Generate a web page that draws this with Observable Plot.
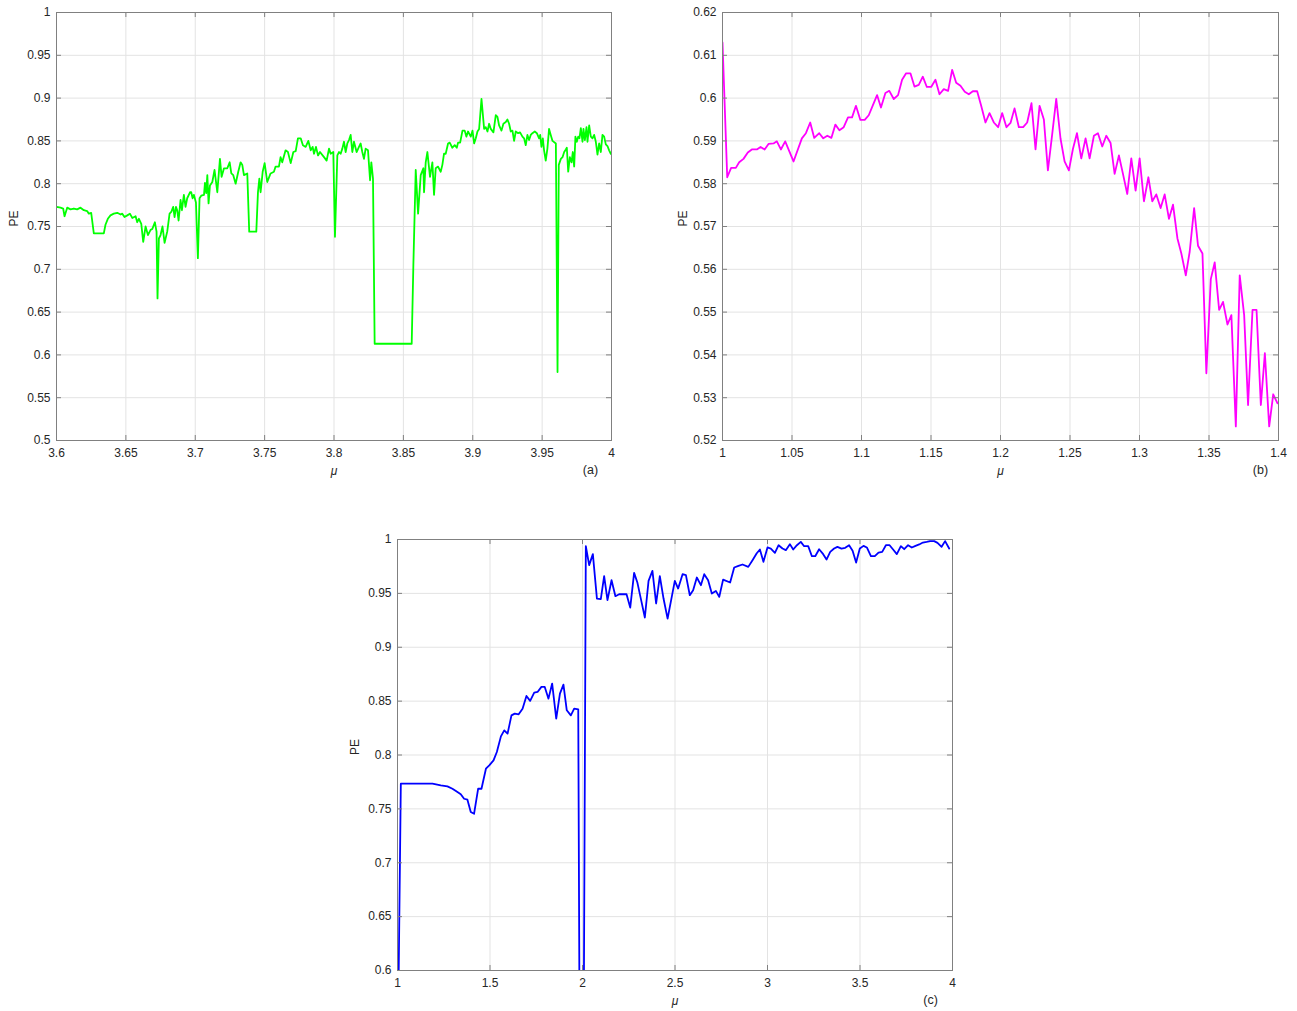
<!DOCTYPE html>
<html><head><meta charset="utf-8">
<script src="https://cdn.jsdelivr.net/npm/d3@7"></script>
<script src="https://cdn.jsdelivr.net/npm/@observablehq/plot@0.6"></script>
<style>
body{margin:0;background:#fff}
#root{position:relative;width:1297px;height:1011px;overflow:hidden;background:#fff}
.panel{position:absolute}
</style>
</head><body><div id="root"></div>
<script>
// ---------- Panel (a) ----------
const muA = [3.6000,3.6029,3.6048,3.6058,3.6077,3.6101,3.6125,3.6149,3.6173,3.6197,
3.6221,3.6233,3.6250,3.6269,3.6341,3.6353,3.6370,3.6389,3.6413,3.6438,
3.6462,3.6474,3.6490,3.6510,3.6529,3.6546,3.6570,3.6582,3.6594,3.6611,
3.6625,3.6642,3.6659,3.6678,3.6690,3.6709,3.6721,3.6728,3.6738,3.6750,
3.6764,3.6779,3.6798,3.6815,3.6827,3.6841,3.6851,3.6861,3.6870,3.6880,
3.6894,3.6904,3.6918,3.6930,3.6942,3.6962,3.6971,3.6981,3.6990,3.7005,
3.7019,3.7031,3.7043,3.7063,3.7070,3.7079,3.7087,3.7096,3.7106,3.7123,
3.7139,3.7159,3.7178,3.7190,3.7207,3.7231,3.7248,3.7260,3.7274,3.7291,
3.7310,3.7327,3.7339,3.7351,3.7375,3.7389,3.7440,3.7452,3.7462,3.7471,
3.7486,3.7500,3.7519,3.7543,3.7567,3.7579,3.7603,3.7615,3.7627,3.7651,
3.7668,3.7688,3.7707,3.7724,3.7740,3.7760,3.7776,3.7796,3.7815,3.7832,
3.7846,3.7856,3.7870,3.7885,3.7899,3.7928,3.7947,3.7964,3.7976,3.7995,
3.8007,3.8024,3.8036,3.8048,3.8060,3.8072,3.8084,3.8096,3.8108,3.8120,
3.8132,3.8144,3.8163,3.8180,3.8192,3.8204,3.8216,3.8228,3.8245,3.8260,
3.8269,3.8281,3.8293,3.8560,3.8572,3.8589,3.8606,3.8625,3.8644,3.8649,
3.8661,3.8673,3.8692,3.8709,3.8721,3.8733,3.8750,3.8769,3.8781,3.8793,
3.8805,3.8822,3.8834,3.8853,3.8870,3.8885,3.8894,3.8909,3.8926,3.8942,
3.8954,3.8966,3.8986,3.8998,3.9010,3.9022,3.9034,3.9046,3.9063,3.9082,
3.9094,3.9106,3.9118,3.9130,3.9149,3.9166,3.9178,3.9190,3.9207,3.9221,
3.9238,3.9250,3.9262,3.9274,3.9286,3.9298,3.9310,3.9327,3.9341,3.9358,
3.9370,3.9382,3.9394,3.9406,3.9418,3.9430,3.9447,3.9462,3.9478,3.9486,
3.9495,3.9505,3.9514,3.9526,3.9538,3.9550,3.9562,3.9575,3.9599,3.9611,
3.9620,3.9635,3.9647,3.9659,3.9671,3.9678,3.9688,3.9700,3.9712,3.9721,
3.9731,3.9740,3.9750,3.9760,3.9769,3.9779,3.9791,3.9798,3.9808,3.9820,
3.9827,3.9839,3.9851,3.9863,3.9875,3.9887,3.9899,3.9911,3.9923,3.9935,
3.9947,3.9959,3.9971,3.9983,3.9995];
const peA = [0.773,0.772,0.771,0.762,0.772,0.770,0.771,0.770,0.772,0.769,
0.768,0.765,0.766,0.742,0.742,0.752,0.759,0.763,0.765,0.766,
0.764,0.765,0.761,0.763,0.765,0.760,0.762,0.755,0.759,0.753,
0.732,0.750,0.740,0.746,0.747,0.755,0.744,0.666,0.736,0.740,
0.750,0.731,0.744,0.765,0.767,0.773,0.761,0.773,0.769,0.757,
0.781,0.769,0.787,0.773,0.783,0.790,0.790,0.783,0.787,0.778,
0.713,0.783,0.786,0.787,0.801,0.789,0.810,0.777,0.798,0.802,
0.816,0.790,0.829,0.808,0.818,0.818,0.825,0.812,0.810,0.800,
0.814,0.825,0.822,0.810,0.812,0.744,0.744,0.790,0.806,0.790,
0.814,0.824,0.802,0.812,0.814,0.820,0.820,0.831,0.825,0.839,
0.837,0.824,0.837,0.838,0.853,0.853,0.845,0.843,0.850,0.839,
0.843,0.835,0.843,0.833,0.837,0.831,0.827,0.841,0.835,0.837,
0.738,0.833,0.837,0.835,0.841,0.849,0.837,0.847,0.851,0.857,
0.837,0.849,0.837,0.843,0.847,0.837,0.829,0.841,0.839,0.804,
0.825,0.806,0.613,0.613,0.705,0.816,0.765,0.810,0.818,0.790,
0.825,0.837,0.808,0.825,0.787,0.818,0.820,0.814,0.822,0.835,
0.835,0.847,0.848,0.842,0.845,0.842,0.848,0.848,0.862,0.862,
0.855,0.861,0.855,0.862,0.847,0.853,0.861,0.864,0.899,0.864,
0.866,0.861,0.870,0.864,0.860,0.880,0.878,0.868,0.862,0.870,
0.872,0.875,0.870,0.861,0.862,0.850,0.861,0.859,0.860,0.855,
0.853,0.845,0.857,0.851,0.857,0.859,0.861,0.859,0.853,0.857,
0.843,0.853,0.839,0.827,0.841,0.864,0.857,0.850,0.847,0.580,
0.822,0.829,0.831,0.837,0.840,0.842,0.814,0.831,0.825,0.837,
0.820,0.855,0.849,0.855,0.853,0.865,0.849,0.864,0.851,0.866,
0.849,0.868,0.855,0.853,0.857,0.849,0.834,0.847,0.837,0.857,
0.855,0.846,0.844,0.839,0.835];
const xTicksA = [3.6,3.65,3.7,3.75,3.8,3.85,3.9,3.95,4];
const yTicksA = [0.5,0.55,0.6,0.65,0.7,0.75,0.8,0.85,0.9,0.95,1];

// ---------- Panel (b) ----------
const muB = [1.0000,1.0034,1.0062,1.0096,1.0120,1.0151,1.0182,1.0211,1.0247,1.0274,
1.0303,1.0331,1.0367,1.0391,1.0420,1.0451,1.0511,1.0571,1.0600,1.0631,
1.0660,1.0696,1.0725,1.0754,1.0783,1.0812,1.0841,1.0872,1.0903,1.0932,
1.0960,1.0992,1.1023,1.1052,1.1080,1.1112,1.1140,1.1172,1.1200,1.1232,
1.1263,1.1292,1.1321,1.1352,1.1381,1.1412,1.1441,1.1470,1.1501,1.1532,
1.1561,1.1592,1.1623,1.1652,1.1681,1.1712,1.1743,1.1772,1.1801,1.1832,
1.1861,1.1892,1.1921,1.1952,1.1983,1.2012,1.2043,1.2072,1.2101,1.2132,
1.2163,1.2192,1.2223,1.2252,1.2281,1.2312,1.2341,1.2372,1.2401,1.2432,
1.2461,1.2492,1.2521,1.2550,1.2581,1.2612,1.2641,1.2672,1.2701,1.2732,
1.2761,1.2792,1.2821,1.2852,1.2881,1.2912,1.2941,1.2972,1.3001,1.3032,
1.3064,1.3092,1.3121,1.3152,1.3181,1.3212,1.3241,1.3273,1.3301,1.3333,
1.3361,1.3393,1.3421,1.3453,1.3481,1.3513,1.3541,1.3573,1.3601,1.3633,
1.3661,1.3693,1.3721,1.3753,1.3781,1.3813,1.3842,1.3873,1.3902,1.3933,
1.3962,1.3993];
const peB = [0.6130,0.5815,0.5837,0.5837,0.5850,0.5858,0.5873,0.5880,0.5880,0.5886,
0.5880,0.5893,0.5894,0.5899,0.5880,0.5899,0.5852,0.5906,0.5918,0.5943,
0.5907,0.5918,0.5906,0.5912,0.5907,0.5938,0.5925,0.5932,0.5955,0.5955,
0.5982,0.5949,0.5949,0.5960,0.5982,0.6007,0.5978,0.6012,0.6017,0.5998,
0.6007,0.6043,0.6058,0.6058,0.6027,0.6031,0.6050,0.6026,0.6026,0.6043,
0.6009,0.6021,0.6017,0.6066,0.6036,0.6029,0.6015,0.6009,0.6016,0.6016,
0.5982,0.5943,0.5965,0.5943,0.5932,0.5965,0.5932,0.5942,0.5976,0.5932,
0.5932,0.5943,0.5988,0.5880,0.5982,0.5950,0.5831,0.5916,0.5998,0.5905,
0.5852,0.5831,0.5881,0.5918,0.5859,0.5906,0.5859,0.5912,0.5918,0.5887,
0.5912,0.5895,0.5823,0.5866,0.5823,0.5776,0.5859,0.5784,0.5859,0.5759,
0.5815,0.5759,0.5775,0.5743,0.5775,0.5718,0.5751,0.5672,0.5637,0.5586,
0.5641,0.5743,0.5655,0.5637,0.5357,0.5577,0.5616,0.5505,0.5524,0.5471,
0.5493,0.5233,0.5586,0.5493,0.5283,0.5505,0.5505,0.5283,0.5404,0.5233,
0.5308,0.5287];
const xTicksB = [1,1.05,1.1,1.15,1.2,1.25,1.3,1.35,1.4];
const yTicksB = [0.52,0.53,0.54,0.55,0.56,0.57,0.58,0.59,0.6,0.61,0.62];

// ---------- Panel (c) ----------
const muC = [1.000,1.018,1.189,1.234,1.270,1.297,1.324,1.342,1.360,1.378,
1.396,1.414,1.436,1.454,1.478,1.496,1.519,1.537,1.559,1.577,
1.595,1.616,1.634,1.655,1.676,1.697,1.717,1.739,1.757,1.778,
1.796,1.816,1.836,1.858,1.878,1.897,1.915,1.937,1.955,1.977,
1.995,2.018,2.036,2.056,2.078,2.099,2.117,2.135,2.157,2.178,
2.198,2.220,2.238,2.258,2.279,2.297,2.319,2.337,2.357,2.378,
2.398,2.418,2.438,2.460,2.499,2.517,2.541,2.559,2.580,2.598,
2.618,2.640,2.658,2.679,2.699,2.721,2.739,2.760,2.798,2.820,
2.843,2.865,2.896,2.919,2.941,2.959,2.978,3.000,3.018,3.040,
3.060,3.081,3.099,3.121,3.139,3.159,3.180,3.198,3.220,3.240,
3.258,3.279,3.301,3.319,3.339,3.360,3.378,3.400,3.420,3.441,
3.460,3.479,3.499,3.519,3.537,3.559,3.580,3.600,3.620,3.640,
3.660,3.679,3.699,3.721,3.739,3.760,3.780,3.800,3.820,3.840,
3.860,3.879,3.901,3.919,3.941,3.960,3.982];
const peC = [0.500,0.7734,0.7734,0.7718,0.7709,0.7687,0.7656,0.7635,0.7594,0.7585,
0.7471,0.7455,0.7687,0.7687,0.7873,0.7904,0.7950,0.8028,0.8173,0.8229,
0.8198,0.8368,0.8384,0.8378,0.8430,0.8548,0.8502,0.8579,0.8585,0.8632,
0.8632,0.8523,0.8663,0.8337,0.8570,0.8653,0.8415,0.8368,0.8430,0.8424,
0.100,0.9938,0.9762,0.9864,0.9452,0.9446,0.9660,0.9437,0.9622,0.9474,
0.9492,0.9492,0.9492,0.9368,0.9690,0.9598,0.9421,0.9276,0.9616,0.9709,
0.9406,0.9660,0.9452,0.9266,0.9616,0.9545,0.9678,0.9669,0.9483,0.9529,
0.9647,0.9576,0.9678,0.9622,0.9498,0.9523,0.9467,0.9628,0.9601,0.9740,
0.9755,0.9768,0.9746,0.9808,0.9870,0.9907,0.9793,0.9926,0.9916,0.9876,
0.9947,0.9916,0.9901,0.9957,0.9907,0.9947,0.9978,0.9938,0.9938,0.9845,
0.9845,0.9910,0.9864,0.9814,0.9885,0.9916,0.9932,0.9916,0.9923,0.9947,
0.9895,0.9786,0.9916,0.9941,0.9926,0.9845,0.9845,0.9879,0.9885,0.9947,
0.9947,0.9907,0.9864,0.9938,0.9910,0.9947,0.9926,0.9941,0.9954,0.9972,
0.9978,0.9985,0.9985,0.9969,0.9932,0.9985,0.9916];
const xTicksC = [1,1.5,2,2.5,3,3.5,4];
const yTicksC = [0.6,0.65,0.7,0.75,0.8,0.85,0.9,0.95,1];

const xLabel = "μ";
const yLabel = "PE";

const fmt = d => String(+d.toFixed(3));
const AXIS = "#808080";
const GRID = "#e3e3e3";
const FONT = "Arial, 'Liberation Sans', Helvetica, sans-serif";
const TXT = "#262626";

function panel(o) {
  const {mu, pe, xTicks, yTicks, color, tag, width, height, mt, mr, mb, ml, peDx, tagDx} = o;
  const W = width - ml - mr, H = height - mt - mb;
  const data = d3.zip(mu, pe);
  return Plot.plot({
    width, height, marginTop: mt, marginRight: mr, marginBottom: mb, marginLeft: ml,
    style: {fontFamily: FONT, fontSize: "12px", color: TXT, background: "transparent", overflow: "visible"},
    x: {domain: [xTicks[0], xTicks[xTicks.length - 1]]},
    y: {domain: [yTicks[0], yTicks[yTicks.length - 1]]},
    marks: [
      Plot.gridX(xTicks, {stroke: GRID, strokeOpacity: 1}),
      Plot.gridY(yTicks, {stroke: GRID, strokeOpacity: 1}),
      Plot.line(data, {x: d => d[0], y: d => d[1], stroke: color, strokeWidth: 1.8, clip: true}),
      Plot.frame({stroke: AXIS}),
      Plot.tickX(xTicks, {x: d => d, insetTop: H - 5, stroke: AXIS}),
      Plot.tickX(xTicks, {x: d => d, insetBottom: H - 5, stroke: AXIS}),
      Plot.tickY(yTicks, {y: d => d, insetRight: W - 5, stroke: AXIS}),
      Plot.tickY(yTicks, {y: d => d, insetLeft: W - 5, stroke: AXIS}),
      Plot.axisX(xTicks, {tickSize: 0, tickPadding: 8, tickFormat: fmt, fill: TXT, fontSize: 12, fontFamily: FONT}),
      Plot.axisY(yTicks, {tickSize: 0, tickPadding: 6, tickFormat: fmt, fill: TXT, fontSize: 12, fontFamily: FONT}),
      Plot.text([xLabel], {text: d => d, frameAnchor: "bottom", dy: 34, fontStyle: "italic", fontSize: 12, fontFamily: FONT, fill: TXT}),
      Plot.text([yLabel], {text: d => d, frameAnchor: "left", rotate: -90, dx: peDx, fontSize: 12, fontFamily: FONT, fill: TXT}),
      Plot.text([tag], {text: d => d, frameAnchor: "bottom-right", textAnchor: "middle", dx: tagDx, dy: 33, fontSize: 12.5, fontFamily: FONT, fill: TXT})
    ]
  });
}

const root = document.getElementById("root");
function place(node, left, top) {
  const d = document.createElement("div");
  d.className = "panel";
  d.style.left = left + "px";
  d.style.top = top + "px";
  d.appendChild(node);
  root.appendChild(d);
}

place(panel({mu: muA, pe: peA, xTicks: xTicksA, yTicks: yTicksA, color: "#00ff00", tag: "(a)",
  width: 650, height: 490, mt: 12, mr: 39, mb: 50, ml: 56, peDx: -42, tagDx: -21}), 0, 0);
place(panel({mu: muB, pe: peB, xTicks: xTicksB, yTicks: yTicksB, color: "#ff00ff", tag: "(b)",
  width: 637, height: 490, mt: 12, mr: 19, mb: 50, ml: 62, peDx: -39, tagDx: -18}), 660, 0);
place(panel({mu: muC, pe: peC, xTicks: xTicksC, yTicks: yTicksC, color: "#0000ff", tag: "(c)",
  width: 650, height: 491, mt: 19, mr: 28, mb: 41, ml: 67, peDx: -42, tagDx: -22}), 330, 520);
</script>
</body></html>
